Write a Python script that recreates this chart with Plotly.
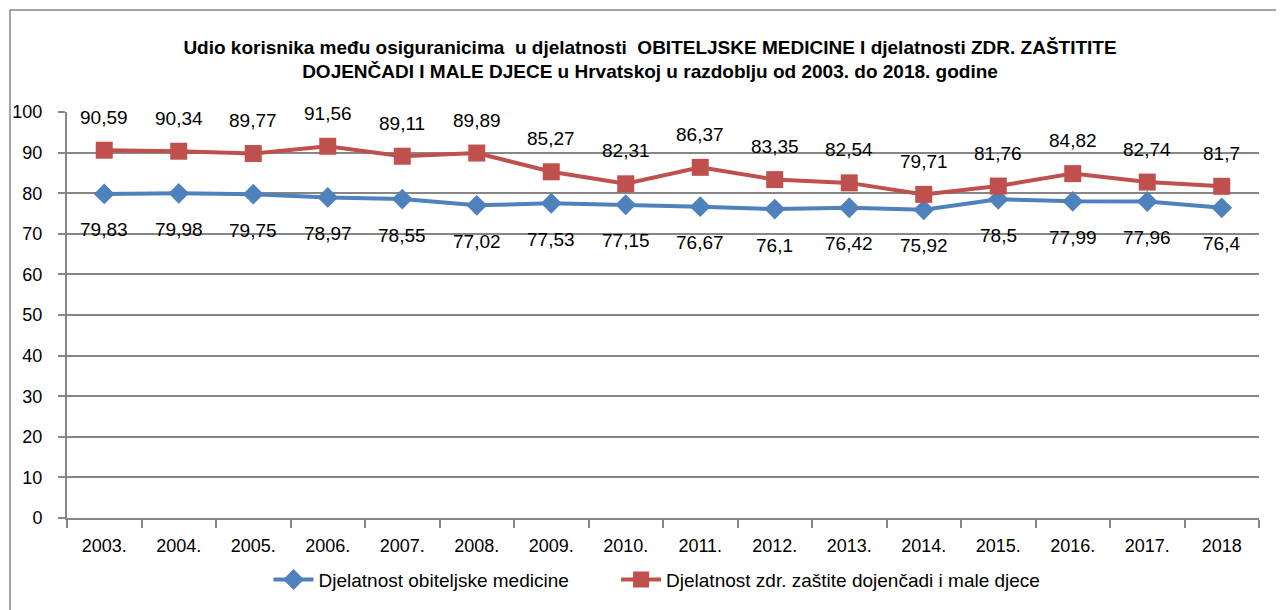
import plotly.graph_objects as go

# Data
years = ['2003.', '2004.', '2005.', '2006.', '2007.', '2008.', '2009.', '2010.',
         '2011.', '2012.', '2013.', '2014.', '2015.', '2016.', '2017.', '2018']
obiteljska = [79.83, 79.98, 79.75, 78.97, 78.55, 77.02, 77.53, 77.15,
              76.67, 76.1, 76.42, 75.92, 78.5, 77.99, 77.96, 76.4]
djeca = [90.59, 90.34, 89.77, 91.56, 89.11, 89.89, 85.27, 82.31,
         86.37, 83.35, 82.54, 79.71, 81.76, 84.82, 82.74, 81.7]

name_obit = 'Djelatnost obiteljske medicine'
name_djeca = 'Djelatnost zdr. zaštite dojenčadi i male djece'

BLUE = '#4F81BD'
RED = '#C0504D'
GRID = '#868686'
FONT = 'Liberation Sans, Arial'


def fmt(v):
    # decimal comma, as in the original labels
    return f"{v:g}".replace('.', ',')


fig = go.Figure()

fig.add_trace(go.Scatter(
    x=years, y=obiteljska,
    mode='lines+markers',
    name=name_obit + '\u00a0' * 8,  # padding to widen the legend gap
    line=dict(color=BLUE, width=4),
    marker=dict(symbol='diamond', size=16, color=BLUE)
))

fig.add_trace(go.Scatter(
    x=years, y=djeca,
    mode='lines+markers',
    name=name_djeca,
    line=dict(color=RED, width=4),
    marker=dict(symbol='square', size=17, color=RED)
))

# Data labels: red above, blue below (category index used for x,
# since '2003.' would otherwise be read as a number)
for i, v in enumerate(djeca):
    fig.add_annotation(x=i, y=v, text=fmt(v), showarrow=False, yshift=33,
                       font=dict(family=FONT, size=19, color='black'))
for i, v in enumerate(obiteljska):
    fig.add_annotation(x=i, y=v, text=fmt(v), showarrow=False, yshift=-36,
                       font=dict(family=FONT, size=19, color='black'))

# Outer chart border
fig.add_shape(type='rect', xref='paper', yref='paper',
              x0=-57 / 1192, x1=1.05, y0=-2, y1=508 / 406,
              line=dict(color=GRID, width=1.5), layer='below')

fig.update_layout(
    width=1284, height=610,
    margin=dict(l=59, r=33, t=104, b=100, autoexpand=False),
    paper_bgcolor='white', plot_bgcolor='white',
    font=dict(family=FONT, size=18, color='black'),
    title=dict(
        text='<b>Udio korisnika među osiguranicima  u djelatnosti  OBITELJSKE MEDICINE I djelatnosti ZDR. ZAŠTITITE<br>'
             'DOJENČADI I MALE DJECE u Hrvatskoj u razdoblju od 2003. do 2018. godine</b>',
        x=0.5, xanchor='center', y=0.925, yanchor='top',
        font=dict(family=FONT, size=19, color='black')
    ),
    xaxis=dict(
        type='category', tickson='boundaries', ticks='outside', ticklen=8,
        tickcolor=GRID, tickwidth=2, showline=True, linecolor=GRID, linewidth=2,
        showgrid=False, tickfont=dict(size=18), range=[-0.5, len(years) - 0.5],
        ticklabelstandoff=10, automargin=False
    ),
    yaxis=dict(
        range=[0, 100], dtick=10, ticks='outside', ticklen=7, tickcolor=GRID,
        tickwidth=1.5, showline=True, linecolor=GRID, linewidth=2,
        showgrid=True, gridcolor=GRID, gridwidth=1.5, zeroline=False,
        tickfont=dict(size=18), ticklabelstandoff=12, automargin=False
    ),
    showlegend=True,
    legend=dict(orientation='h', x=0.495, xanchor='center', y=-0.105, yanchor='top',
                font=dict(size=19), itemwidth=40)
)

fig.write_html("out.html")
